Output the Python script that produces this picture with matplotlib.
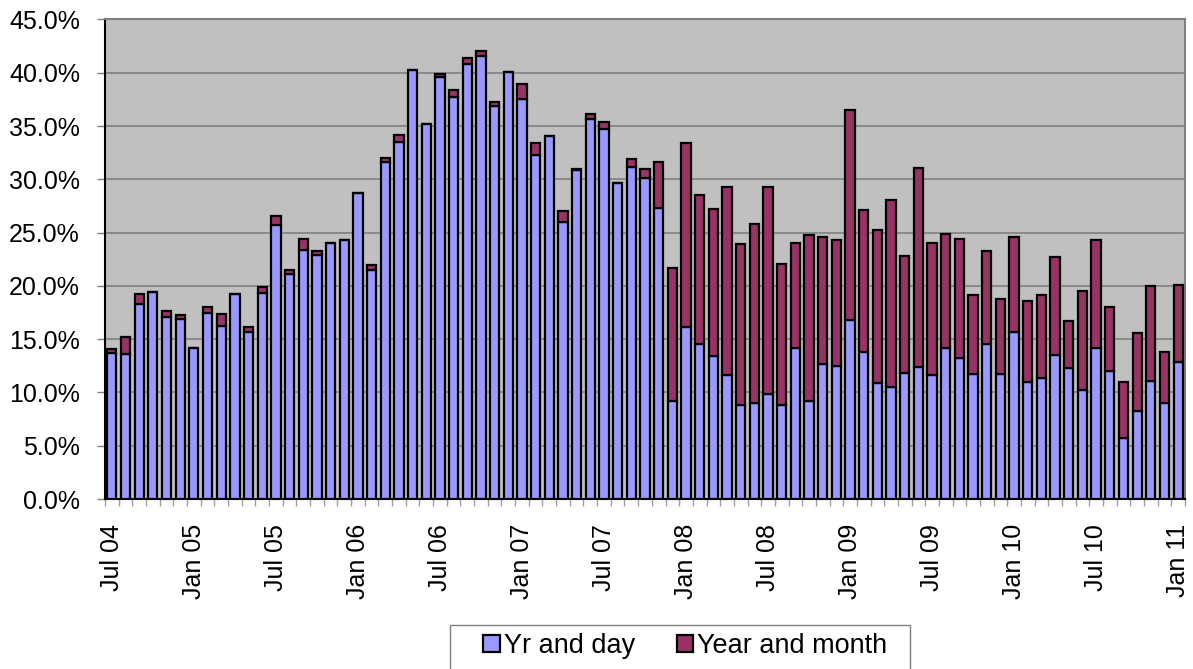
import numpy as np
import matplotlib.pyplot as plt
from matplotlib.patches import Rectangle
from matplotlib.ticker import FuncFormatter

plt.rcParams['font.family'] = ['Liberation Sans', 'DejaVu Sans']

# monthly values, Jul 2004 .. Jan 2011 (%)
yr_and_day = [
    13.7, 13.6, 18.3, 19.4, 17.1, 16.9,
    14.2, 17.5, 16.2, 19.2, 15.7, 19.3, 25.7, 21.1, 23.4, 22.9, 24.0, 24.3,
    28.7, 21.5, 31.6, 33.5, 40.3, 35.2, 39.6, 37.7, 40.8, 41.6, 36.9, 40.1,
    37.5, 32.3, 34.1, 26.0, 30.9, 35.7, 34.7, 29.7, 31.2, 30.1, 27.3, 9.2,
    16.1, 14.5, 13.4, 11.6, 8.8, 9.05, 9.9, 8.8, 14.2, 9.2, 12.7, 12.5,
    16.8, 13.8, 10.9, 10.55, 11.8, 12.4, 11.6, 14.2, 13.2, 11.7, 14.5, 11.75,
    15.7, 11.0, 11.4, 13.5, 12.3, 10.2, 14.2, 12.0, 5.7, 8.3, 11.1, 9.0,
    12.85,
]
total = [
    14.1, 15.2, 19.2, 19.45, 17.6, 17.3,
    14.2, 18.0, 17.4, 19.2, 16.1, 19.9, 26.6, 21.5, 24.4, 23.3, 24.0, 24.3,
    28.7, 22.0, 32.0, 34.2, 40.3, 35.2, 39.9, 38.4, 41.4, 42.0, 37.3, 40.1,
    38.9, 33.4, 34.1, 27.0, 30.95, 36.1, 35.4, 29.7, 31.95, 30.95, 31.6, 21.7,
    33.4, 28.5, 27.2, 29.3, 23.9, 25.8, 29.3, 22.05, 24.0, 24.8, 24.6, 24.3,
    36.5, 27.1, 25.2, 28.1, 22.8, 31.1, 24.0, 24.9, 24.4, 19.1, 23.3, 18.8,
    24.6, 18.6, 19.1, 22.7, 16.7, 19.5, 24.3, 18.0, 11.0, 15.6, 20.0, 13.8,
    20.1,
]
year_and_month = [t - d for t, d in zip(total, yr_and_day)]

tick_labels = ['Jul 04', 'Jan 05', 'Jul 05', 'Jan 06', 'Jul 06', 'Jan 07',
               'Jul 07', 'Jan 08', 'Jul 08', 'Jan 09', 'Jul 09', 'Jan 10',
               'Jul 10', 'Jan 11']

x = np.arange(len(yr_and_day))

fig = plt.figure(figsize=(11.93, 6.69), dpi=100)
ax = fig.add_axes([0.088, 0.2541, 0.9053, 0.7168])
ax.set_facecolor('#C0C0C0')

ax.bar(x, yr_and_day, width=0.68, color='#9999FF', edgecolor='black',
       linewidth=1.6, label='Yr and day', zorder=3)
ax.bar(x, year_and_month, width=0.68, bottom=yr_and_day, color='#993366',
       edgecolor='black', linewidth=1.6, label='Year and month', zorder=3)

ax.set_xlim(-0.5, len(x) - 0.5)
ax.set_ylim(0, 45)
ax.set_yticks(np.arange(0, 46, 5))
ax.yaxis.set_major_formatter(FuncFormatter(lambda v, p: f'{v:.1f}%'))
ax.grid(axis='y', color='#808080', linewidth=1.2, zorder=1)

ax.set_xticks(x[::6])
ax.set_xticklabels(tick_labels, rotation=90)
ax.set_xticks(np.arange(-0.5, len(x), 1), minor=True)
ax.tick_params(axis='x', which='major', length=0, pad=18, labelsize=18)
ax.tick_params(axis='x', which='minor', length=5, color='#A0A0A0', width=1)
ax.tick_params(axis='y', length=6, color='#808080', width=1, pad=12, labelsize=18)

for side in ['top', 'right']:
    ax.spines[side].set_color('#808080')
    ax.spines[side].set_linewidth(1.5)
ax.spines['left'].set_color('black')
ax.spines['bottom'].set_color('black')
ax.spines['left'].set_linewidth(1.5)
ax.spines['bottom'].set_linewidth(1.5)

# legend box, running off the bottom edge like the original
fig.patches.append(Rectangle((0.377, -0.05), 0.386, 0.116,
                             transform=fig.transFigure, facecolor='white',
                             edgecolor='#808080', linewidth=1))
fig.legend(loc='upper center', bbox_to_anchor=(0.5745, 0.066), ncol=2,
           frameon=False, fontsize=19.5, handlelength=0.6, handleheight=0.6,
           handletextpad=0.15, columnspacing=1.55, borderpad=0.3,
           borderaxespad=0)

fig.savefig('out.png', dpi=100)
